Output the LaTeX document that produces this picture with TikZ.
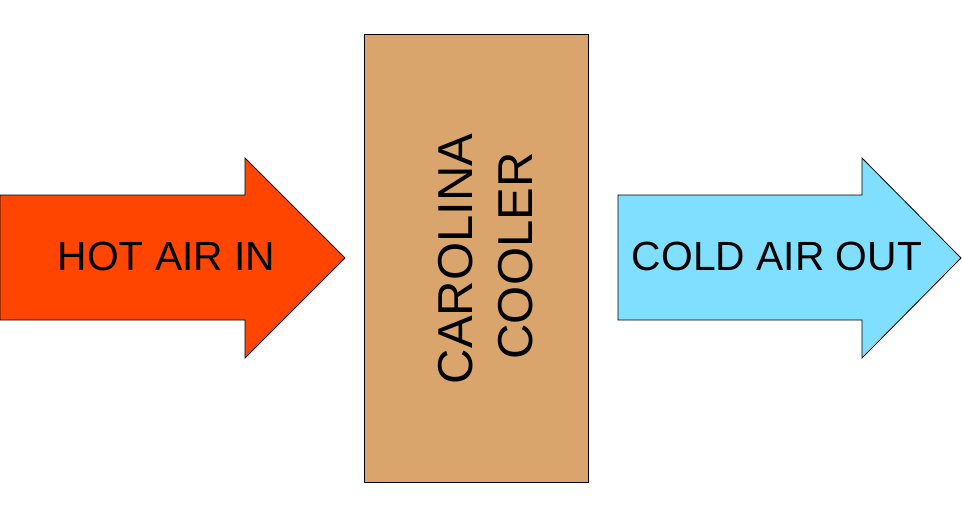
\documentclass[tikz,border=0pt]{standalone}
\usepackage{fontspec}
\setmainfont{Liberation Sans}
\usetikzlibrary{positioning}
\definecolor{hotred}{HTML}{FF4500}
\definecolor{coldblue}{HTML}{80DFFF}
\definecolor{coolertan}{HTML}{D9A56D}
\tikzset{
    flowarrow/.style={draw=black, line width=0.8pt, line join=miter},
    airtext/.style={font=\fontsize{40.8}{48}\selectfont, inner sep=0pt},
    unittext/.style={font=\fontsize{49}{58}\selectfont, inner sep=0pt,
        rotate=90, anchor=base},
    unitbox/.style={draw=black, line width=0.8pt, fill=coolertan,
        minimum width=224pt, minimum height=448pt}
}

\begin{document}
\begin{tikzpicture}[x=1pt, y=-1pt]
\useasboundingbox (0,0) rectangle (962,525);

% cooler unit
\node (unit) [unitbox] at (476,258) {};
\node (carolina) [unittext] at (472,259) {CAROLINA};
\node (coolerword) [unittext] at (532,256) {COOLER};

% air flow arrows
\draw [flowarrow, fill=hotred] (0,195) -- (245,195) -- (245,158) -- (345,258)
    -- (245,358) -- (245,320) -- (0,320) -- cycle;
\node (hotin) [airtext] at (166.5,256) {HOT AIR IN};

\draw [flowarrow, fill=coldblue] (618,195) -- (862,195) -- (862,158) -- (961,258)
    -- (862,358) -- (862,320) -- (618,320) -- cycle;
\node (coldout) [airtext] at (777,256) {COLD AIR OUT};

\end{tikzpicture}
\end{document}
